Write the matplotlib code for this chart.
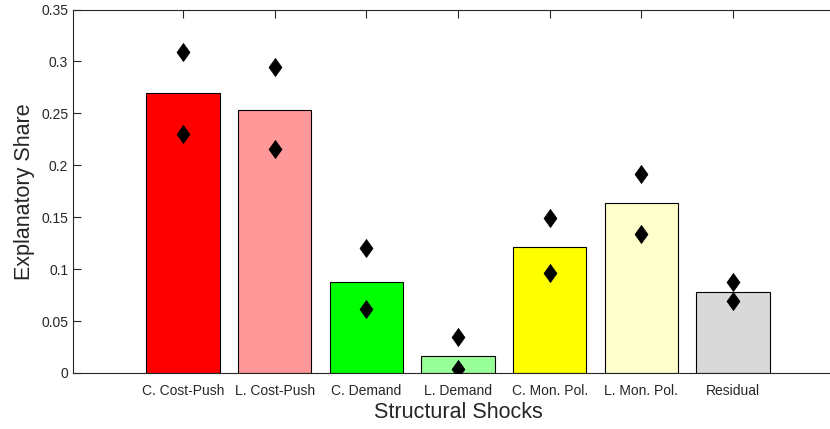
import matplotlib.pyplot as plt
import numpy as np

plt.rcParams['font.family'] = ['Liberation Sans', 'DejaVu Sans']

shocks = ['C. Cost-Push', 'L. Cost-Push', 'C. Demand', 'L. Demand',
          'C. Mon. Pol.', 'L. Mon. Pol.', 'Residual']
share = [0.2693, 0.2532, 0.0879, 0.0164, 0.1210, 0.1634, 0.0783]
upper = [0.3088, 0.2949, 0.1207, 0.0350, 0.1495, 0.1916, 0.0879]
lower = [0.2304, 0.2157, 0.0613, 0.0038, 0.0960, 0.1335, 0.0693]
colors = ['#ff0000', '#ff9999', '#00ff00', '#99ff99',
          '#ffff00', '#ffffcc', '#d9d9d9']
yticks = [0, 0.05, 0.1, 0.15, 0.2, 0.25, 0.3, 0.35]

# MATLAB-style diamond (a bit wider than matplotlib's 'd')
diamond = [(0, 1), (0.72, 0), (0, -1), (-0.72, 0), (0, 1)]

fig = plt.figure(figsize=(8.30, 4.29), dpi=100)
# axes run past the right edge of the figure, as in the cropped original
ax = fig.add_axes([73 / 830, 56 / 429, 770 / 830, 363.5 / 429])

x = np.arange(1, len(shocks) + 1)
ax.bar(x, share, width=0.8, color=colors, edgecolor='black', linewidth=0.8, zorder=2)
ax.plot(x, upper, 'k', linestyle='none', marker=diamond, markersize=13,
        markeredgewidth=0.5, zorder=3)
ax.plot(x, lower, 'k', linestyle='none', marker=diamond, markersize=13,
        markeredgewidth=0.5, zorder=3)

ax.set_xlim(-0.2, 8.2)
ax.set_ylim(0, 0.35)
ax.set_xticks(x)
ax.set_xticklabels(shocks)
ax.set_yticks(yticks)
ax.set_yticklabels(['0', '0.05', '0.1', '0.15', '0.2', '0.25', '0.3', '0.35'])
ax.tick_params(direction='in', length=6, width=0.8, colors='#262626',
               labelsize=10, top=True, right=True)
ax.tick_params(axis='x', pad=8)
for s in ax.spines.values():
    s.set_color('#262626')
    s.set_linewidth(0.8)

ax.set_xlabel('Structural Shocks', fontsize=15.5, color='#262626', labelpad=3)
ax.set_ylabel('Explanatory Share', fontsize=15.5, color='#262626', labelpad=4)

fig.savefig('out.png', dpi=100)
